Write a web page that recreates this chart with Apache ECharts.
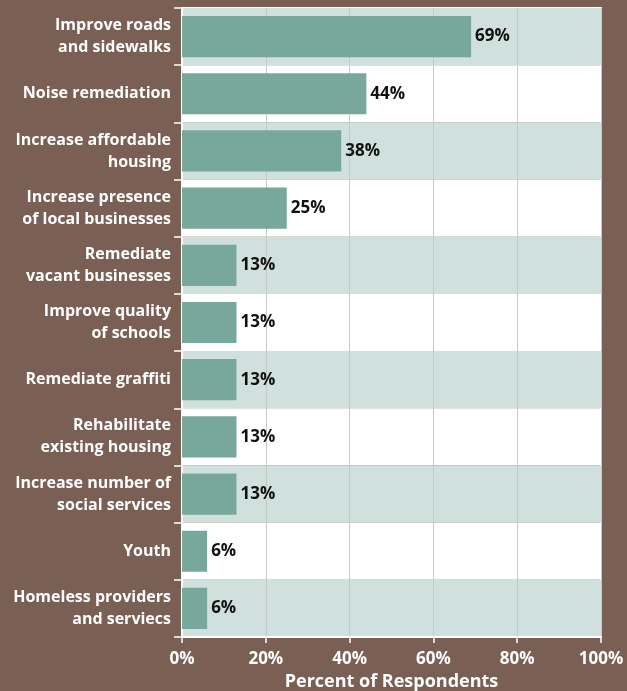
<!DOCTYPE html>
<html><head><meta charset="utf-8">
<script src="https://cdn.jsdelivr.net/npm/echarts@6/dist/echarts.min.js"></script>
<style>html,body{margin:0;padding:0;background:#7a5f55;}#c{width:627px;height:691px;}</style>
</head><body><div id="c"></div>
<script>
const categories = [
  "Improve roads\nand sidewalks",
  "Noise remediation",
  "Increase affordable\nhousing",
  "Increase presence\nof local businesses",
  "Remediate\nvacant businesses",
  "Improve quality\nof schools",
  "Remediate graffiti",
  "Rehabilitate\nexisting housing",
  "Increase number of\nsocial services",
  "Youth",
  "Homeless providers\nand serviecs"
];
const values = [69, 44, 38, 25, 13, 13, 13, 13, 13, 6, 6];
const xTicks = [0, 20, 40, 60, 80, 100];
const axisTitle = "Percent of Respondents";

const chart = echarts.init(document.getElementById('c'));
const font = "'Open Sans', Lato, sans-serif";
chart.setOption({
  backgroundColor: '#7a5f55',
  animation: false,
  grid: { left: 182, right: 26, top: 8, bottom: 54, outerBoundsMode: 'none', containLabel: false, show: true, borderColor: '#ffffff', borderWidth: 2, backgroundColor: 'transparent' },
  xAxis: {
    type: 'value', min: 0, max: 100, interval: 20,
    axisLine: { show: true, lineStyle: { color: '#ffffff', width: 2 } },
    axisTick: { show: true, length: 6, lineStyle: { color: '#ffffff', width: 1.5 } },
    splitLine: { show: true, lineStyle: { color: '#c8c8c8', width: 1 } },
    axisLabel: { color: '#ffffff', fontFamily: font, fontWeight: 'bold', fontSize: 17, margin: 14, formatter: v => v + '%' },
    name: axisTitle, nameLocation: 'middle', nameGap: 36,
    nameTextStyle: { color: '#ffffff', fontFamily: font, fontWeight: 'bold', fontSize: 18 }
  },
  yAxis: {
    type: 'category', data: categories, inverse: true,
    axisLine: { show: true, lineStyle: { color: '#ffffff', width: 2 } },
    axisTick: { show: true, length: 8, lineStyle: { color: '#ffffff', width: 1.5 } },
    splitArea: { show: true, areaStyle: { color: ['#d0e0dc', '#ffffff'] } },
    axisLabel: { color: '#ffffff', fontFamily: font, fontWeight: 'bold', fontSize: 16, lineHeight: 22, margin: 11, align: 'right' }
  },
  series: [{
    type: 'bar', data: values, barWidth: '72%',
    itemStyle: { color: '#78a89c' },
    label: { show: true, position: 'right', distance: 4, formatter: '{c}%', color: '#111111', fontFamily: font, fontWeight: 'bold', fontSize: 17 }
  }]
});
</script></body></html>
